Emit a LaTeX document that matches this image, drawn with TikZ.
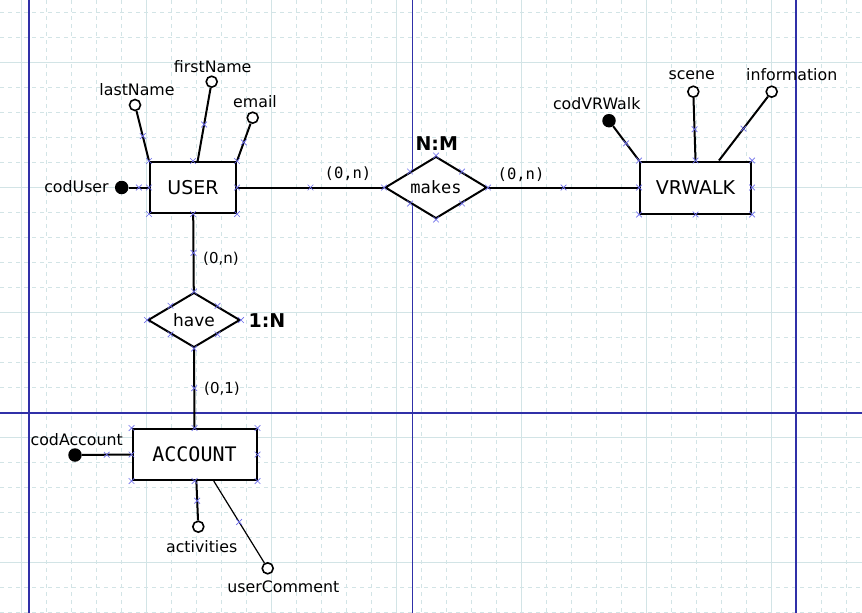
\documentclass[tikz,border=0pt]{standalone}
\usepackage{fontspec}
\setmainfont{DejaVu Sans}
\setmonofont{DejaVu Sans Mono}
\usetikzlibrary{shapes.geometric,shapes.misc}

\definecolor{gridcol}{RGB}{210,228,230}
\definecolor{pagecol}{RGB}{48,48,168}
\definecolor{handlecol}{RGB}{110,110,235}

\begin{document}
\begin{tikzpicture}[x=1pt,y=-1pt,
        entity/.style={draw, line width=2pt, fill=white, inner sep=0pt, font=\fontsize{19}{22}\selectfont},
        relation/.style={draw, diamond, line width=2pt, fill=white, inner sep=0pt, font=\ttfamily\fontsize{17}{20}\selectfont},
        attr/.style={draw, circle, line width=1.6pt, fill=white, inner sep=0pt, minimum size=11pt},
        keyattr/.style={circle, fill=black, inner sep=0pt, minimum size=13.5pt},
        lbl/.style={inner sep=0pt, font=\fontsize{15.8}{18}\selectfont},
        card/.style={inner sep=0pt, font=\fontsize{15}{18}\selectfont},
        ratio/.style={inner sep=0pt, font=\bfseries\fontsize{19}{22}\selectfont},
        link/.style={line width=2pt},
        handle/.style={cross out, draw=handlecol, line width=0.7pt, inner sep=0pt, minimum size=5pt}]
    \useasboundingbox (0,0) rectangle (862,613);
    \fill[white] (0,0) rectangle (862,613);

    % grid
    \foreach \gx in {21,46,...,846}
        \draw[gridcol, line width=0.8pt, dash pattern=on 4pt off 4pt] (\gx,0) -- (\gx,613);
    \foreach \gy in {12,37,...,612}
        \draw[gridcol, line width=0.8pt, dash pattern=on 4pt off 4pt] (0,\gy) -- (862,\gy);
    \foreach \gx in {21,146,...,771}
        \draw[gridcol, line width=1pt] (\gx,0) -- (\gx,613);
    \foreach \gy in {62,187,...,562}
        \draw[gridcol, line width=1pt] (0,\gy) -- (862,\gy);

    % page borders
    \draw[pagecol, line width=1.2pt] (29,0) -- (29,613);
    \draw[pagecol, line width=1.2pt] (412.5,0) -- (412.5,613);
    \draw[pagecol, line width=1.2pt] (796,0) -- (796,613);
    \draw[pagecol, line width=1.2pt] (0,413) -- (862,413);

    % entities and relations
    \node[entity, minimum width=86pt, minimum height=51pt] (user) at (193,187.5) {USER};
    \node[entity, minimum width=111pt, minimum height=52pt] (vrwalk) at (695.5,187.5) {VRWALK};
    \node[entity, minimum width=124pt, minimum height=51pt, font=\ttfamily\fontsize{20}{23}\selectfont] (account) at (194.5,454.5) {ACCOUNT};
    \node[relation, minimum width=102pt, minimum height=62pt, aspect=1.65] (makes) at (436,187.5) {makes};
    \node[relation, minimum width=92pt, minimum height=55pt, aspect=1.67, font=\fontsize{17}{20}\selectfont] (have) at (194,320) {have};

    % attributes
    \node[attr] (lastName) at (135,105) {};
    \node[attr] (firstName) at (211.7,81.7) {};
    \node[attr] (email) at (252.7,117.7) {};
    \node[keyattr] (codUser) at (121.7,187.5) {};
    \node[keyattr] (codVRWalk) at (609,120.7) {};
    \node[attr] (scene) at (693.3,91.7) {};
    \node[attr] (information) at (771.7,91.7) {};
    \node[keyattr] (codAccount) at (75,455) {};
    \node[attr] (activities) at (198.3,526.7) {};
    \node[attr] (userComment) at (267.7,568.3) {};

    \node[lbl] (lastName-l) at (137,90) {lastName};
    \node[lbl] (firstName-l) at (212.7,67) {firstName};
    \node[lbl] (email-l) at (255,101.7) {email};
    \node[lbl] (codUser-l) at (76.5,187) {codUser};
    \node[lbl] (codVRWalk-l) at (596.7,103.3) {codVRWalk};
    \node[lbl] (scene-l) at (691.7,75) {scene};
    \node[lbl] (information-l) at (791.7,75) {information};
    \node[lbl] (codAccount-l) at (76.7,440) {codAccount};
    \node[lbl] (activities-l) at (201.7,546.7) {activities};
    \node[lbl] (userComment-l) at (283.3,586.7) {userComment};

    % cardinalities
    \node[card, font=\ttfamily\fontsize{15.5}{18}\selectfont] (makes-user) at (348,174) {(0,n)};
    \node[card, font=\ttfamily\fontsize{15.5}{18}\selectfont] (makes-vrwalk) at (521,175) {(0,n)};
    \node[card] (have-user) at (221,258.3) {(0,n)};
    \node[card] (have-account) at (222,388.3) {(0,1)};
    \node[ratio] (makes-ratio) at (436.7,143.3) {N:M};
    \node[ratio] (have-ratio) at (267,320.5) {1:N};

    % connectors
    \draw[link] (lastName) -- node[handle]{} (user.north west);
    \draw[link] (firstName) -- node[handle]{} (user.80);
    \draw[link] (email) -- node[handle]{} (user.north east);
    \draw[link] (codUser) -- node[handle]{} (user.west);
    \draw[link] (user) -- node[handle]{} (makes);
    \draw[link] (makes) -- node[handle]{} (vrwalk);
    \draw[link] (codVRWalk) -- node[handle]{} (vrwalk.north west);
    \draw[link] (scene) -- node[handle]{} (vrwalk.north);
    \draw[link] (information) -- node[handle]{} (vrwalk.49);
    \draw[link] (user) -- node[handle]{} (have);
    \draw[link] (have) -- node[handle]{} (account);
    \draw[link] (codAccount) -- node[handle]{} (account.west);
    \draw[link] (activities) -- node[handle]{} (account.-86);
    \draw[line width=1.2pt] (userComment) -- node[handle]{} (account.-54);

    % selection handles
    \foreach \e in {user,vrwalk,account,makes,have}
        \foreach \a in {north west,north,north east,east,south east,south,south west,west}
            \node[handle] at (\e.\a) {};
\end{tikzpicture}
\end{document}
